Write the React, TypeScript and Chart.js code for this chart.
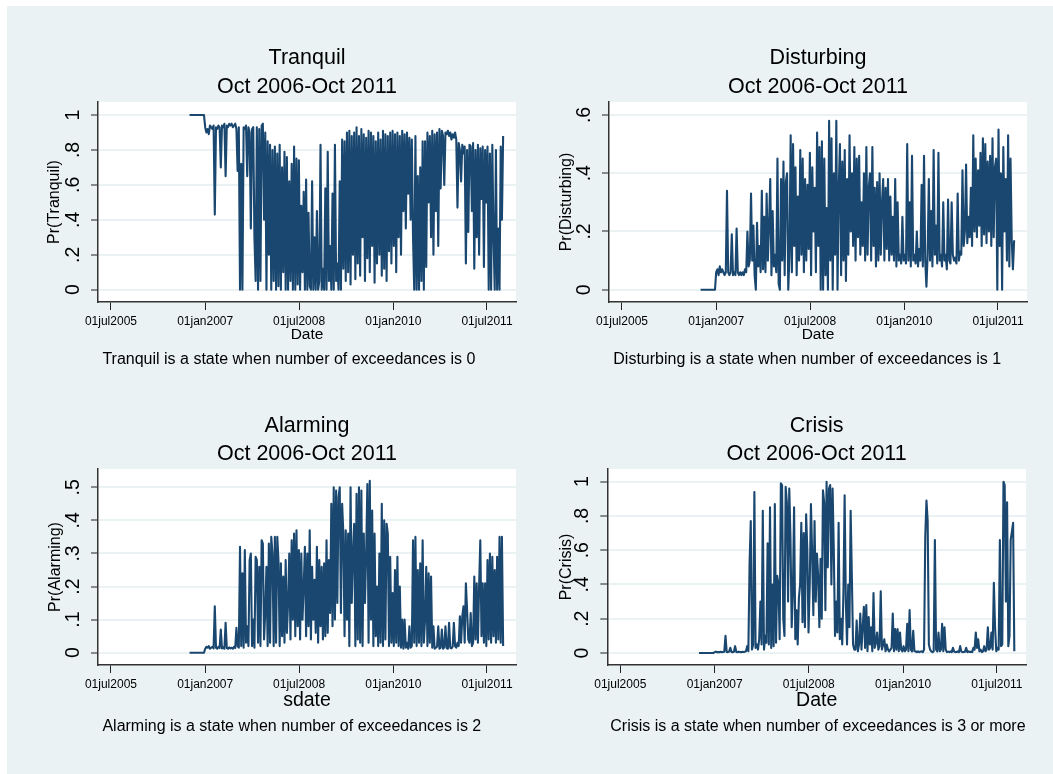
import { useEffect, useRef } from 'react';
import { Chart, registerables } from 'chart.js';

Chart.register(...registerables);

const FONT = '"Liberation Sans", Arial, Helvetica, sans-serif';
Chart.defaults.font.family = FONT;
const NAVY = '#1A476F';
const BG = '#EAF2F3';

// weekly observations starting at this date
const firstWeek = '2006-10-02';
const stepDays = 7;

const dateTicks = ['2005-07-01', '2007-01-01', '2008-07-01', '2010-01-01', '2011-07-01'];
const dateTickLabels = ['01jul2005', '01jan2007', '01jul2008', '01jan2010', '01jul2011'];
const period = 'Oct 2006-Oct 2011';

const tranquil = [
  1, 1, 1, 1, 1, 1, 1, 1, 1, 1, 1, 1, 1,
  .93, .90, .92, .89, .94, .93, .92, .94,
  .43,
  .93, .92, .94, .93,
  .70,
  .94, .93, .95,
  .65,
  .94, .93, .95, .94, .95, .93, .94, .95,
  .92, .68, .93, 0, .72, 0, .93, .92, .94, .65, .93,
  .90, .35, .92, .93, .30, .05, .93, 0, .92, .05,
  .94, .95, .40, .90, 0, .85, .20, .83, 0, .80,
  .05, .82, 0, .78, .02, .83, 0, .70, .10, .79,
  0, .76, 0, .62, .05, .72, 0, .82, 0, .75,
  .03, .74, 0, .48, .10, .56, 0, .63, 0, .44,
  .02, 0, .62, 0, .30, 0, .45, 0, .05, .83,
  0, .12, 0, .58, 0, .79, .05, .25, 0, .55,
  0, .83, .05, .15, 0, .62, 0,
  .86, .12, .85, .05, .90, .10, .91, .03, .88, .20,
  .90, .06, .93, .15, .88, .08, .92, .30, .89, .05,
  .87, .18, .91, .10, .90, .25, .88, .04, .85, .15,
  .90, .20, .86, .08, .91, .12, .89, .05, .88, .22,
  .90, .15, .91, .25, .89, .10, .90, .30, .88, .20,
  .91, .45, .89, .35, .90, .55, .87, .40, .86, .30,
  0, .88, 0, .65, 0, .70, .05, .85, 0,
  .85, .13, .90, .50, .88, .30, .91, .20, .89, .45,
  .90, .25, .92, .58, .91, .88, .60, .90, .89, .91,
  .88, .90, .86, .89, .87, .90,
  .86, .47, .84, .80, .62, .83, .78, .82, .15, .80, .33, .83,
  .82, .45, .84, .12, .80, .30, .83, .20, .81, .52, .82, .13, .80, .50,
  .82, 0, .78, 0, .83, .30, 0, .80, 0, .35, 0, .82, .40, .88,
];

const disturbing = [
  0, 0, 0, 0, 0, 0, 0, 0, 0, 0, 0, 0, 0,
  .06, .07, .05, .08, .06, .07, .06, .05, .06,
  .34,
  .06, .05, .06, .19, .05, .06, .05, .21, .06, .05, .06, .05, .06, .05, .07,
  .06, .20, .08, .10, .33, .10, .22, .05, 0, .23,
  .08, .15, .06, .34, .07, .25, .06, .33, .10, .22,
  .38, .05, .27, .08, .12, .06, .45, .02, 0, .38,
  .10, .44, .05, .37, .40, 0, .12, .53, .06, .50,
  .15, .42, .05, .32, .10, .48, .12, .45, .06, .38,
  .10, .36, .14, .47, .05, .42, .20, .35, .06, .54,
  .15, .49, 0, .51, 0, .45, .05, .28, 0, .58,
  .10, .52, 0, .40, .12, .58, 0, .35, .50, .05,
  .44, .10, .48, .03, .38, .12, .53, .20, .40, .15,
  .49, .10, .45, .18, .46, .12, .30, .15, .40, .10,
  .49, .12, .35, .40, .10, .49, .15, .35, .08, .37,
  .10, .40, .12, .30, .38, .10, .35, .14, .38, .10,
  .32, .12, .25, .10, .38, .08, .30, .10, .12, .09,
  .25, .10, .12, .09, .50, .10, .30, .08, .46, .10,
  .12, .09, .20, .08, .14, .10, .36, .08, .46, .10,
  .01, .12, .38, .10, .27, .08, .48, .12, .22, .09,
  .47, .10, .12, .08, .30, .10, .12, .07, .31, .10,
  .09, .30, .12, .10, .11, .09, .33, .10, .13, .12,
  .41, .15, .20, .43, .16, .25, .18, .35, .15, .53,
  .20, .45, .18, .41, .22, .47, .15, .52, .19, .50,
  .16, .44, .20, .46, .15, .52, .18, .42, .45, 0,
  .55, .15, .40, 0, .49, .20, .38, .10, .53, .08,
  .45, .17, .07, .17,
];

const alarming = [
  0, 0, 0, 0, 0, 0, 0, 0, 0, 0, 0, 0, 0,
  .012, .018, .015, .02, .012, .015, .018, .013,
  .14,
  .015, .012, .018, .014,
  .07,
  .013, .016, .012,
  .09,
  .014, .012, .016, .013, .015, .012, .018, .014,
  .075, .02, .015, .32, .02, .24, .015, .31, .03, .08,
  .02, .28, .30, .02, .10, .015, .29, .28, .03, .26,
  .02, .34, .33, .04, .12, .26, .02, .33, .03, .35,
  .30, .02, .35, .03, .35, .28, .02, .27, .05, .23,
  .03, .28, .06, .15, .30, .04, .34, .10, .36, .05,
  .37, .08, .31, .04, .30, .10, .20, .32, .05, .30,
  .08, .37, .04, .26, .10, .22, .06, .32, .03, .28,
  .08, .26, .04, .27, .05, .34, .06, .28, .12, .45,
  .08, .50, .10, .49, .15, .47, .50, .12, .45, .36,
  .05, .37, .10, .36, .02, .50, .15, .30, .39, .02,
  .48, .04, .50, .03, .49, .02, .36, .15, .30, .51,
  .03, .52, .10, .43, .02, .36, .05, .20, .02, .30,
  .03, .45, .02, .40, .04, .39, .36, .02, .29, .03,
  .18, .02, .25, .03, .29, .02, .20, .015, .10, .012,
  .10, .015, .03, .012, .08, .015, .02, .34, .03, .35,
  .02, .25, .03, .27, .02, .34, .03, .10, .26, .02,
  .24, .03, .23, .015, .08, .012, .015, .018, .08, .012,
  .015, .07, .012, .016, .08, .014, .012, .09, .015, .013,
  .018, .09, .02, .015, .03, .02, .11, .03, .11, .14,
  .03, .21, .13, .04, .03, .12, .02, .03, .23, .04,
  .21, .03, .20, .34, .05, .21, .03, .21, .02, .28,
  .04, .30, .03, .29, .05, .25, .03, .29, .04, .35,
  .03, .35, .02,
];

const crisis = [
  0, 0, 0, 0, 0, 0, 0, 0, 0, 0, 0, 0, 0,
  .005, .008, .004, .006, .005, .007, .005, .006, .008,
  .10,
  .006, .005, .008,
  .03,
  .006, .005, .007,
  .04,
  .006, .005, .008, .006, .005, .007, .006, .008, .01,
  .04, .01, .52, .77, .02, .05, .94, .03, .05, .02,
  .08, .30, .05, .83, .02, .10, .06, .64, .05, .85,
  .03, .40, .04, .87, .06, .45, .40, .08, .99, .98,
  .20, .10, .97, .88, .30, .96, .67, .15, .35, .85,
  .08, .25, .05, .32, .40, .76, .18, .70, .15, .81,
  .60, .12, .40, .87, .58, .22, .77, .30, .58, .45,
  .15, .55, .20, .95, .88, .25, 1.0, .50, .96, .98,
  .40, .96, .60, .10, .30, .12, .76, .08, .20, .05,
  .35, .92, .30, .05, .40, .15, .83, .45, .05, .02,
  .02, .19, .01, .05, .23, .02, .15, .27, .03, .28,
  .01, .21, .05, .15, .01, .35, .03, .06, .12, .02,
  .04, .36, .02, .05, .08, .01, .05, .02, .01, .02,
  .03, .23, .01, .14, .02, .14, .01, .12, .02, .01,
  .04, .01, .02, .17, .01, .25, .02, .01, .13, .01,
  .01, .005, .01, .005, .008, .01, .005, .02, .68, .89,
  .77, .05, .02, .01, .005, .01, .66, .02, .01, .12,
  .01, .02, .17, .01, .15, .02, .005, .008, .005, .01,
  .005, .03, .008, .005, .006, .01, .005, .04, .008, .005,
  .006, .008, .03, .005, .01, .006, .008, .005, .03, .02,
  .12, .03, .08, .01, .02, .005, .01, .04, .01, .02,
  .15, .02, .03, .12, .02, .41, .15, .01, .03, .02,
  .66, .04, .05, 1.0, .98, .30, .88, .04, .10, .66,
  .71, .76, .01,
];

const ticks10 = [0, .2, .4, .6, .8, 1];
const labels10 = ['0', '.2', '.4', '.6', '.8', '1'];
const ticks06 = [0, .2, .4, .6];
const labels06 = ['0', '.2', '.4', '.6'];
const ticks05 = [0, .1, .2, .3, .4, .5];
const labels05 = ['0', '.1', '.2', '.3', '.4', '.5'];

const dayNum = (s: string) => {
  const [y, m, d] = s.split('-').map(Number);
  return Date.UTC(y, m - 1, d) / 86400000;
};

const X_MIN = dayNum('2005-07-01') - 75.5;
const X_MAX = dayNum('2011-07-01') + 169;

type PanelSpec = {
  id: string; left: number; top: number; title: string; yTitle: string; xTitle: string;
  xTitleSize: number; note: string; values: number[]; yTicks: number[]; yLabels: string[];
  yMin: number; yMax: number; yWidth: number; yTitlePad: number; padRight: number;
  titlePadTop: number; titlePadBottom: number; titleLH: number; xHeight: number;
  padBottom: number; noteY: number; noteDx: number; xTickPad: number;
};

const panels: PanelSpec[] = [
  {
    id: 'p1', left: 7, top: 6, title: 'Tranquil', yTitle: 'Pr(Tranquil)', xTitle: 'Date', xTitleSize: 15.5,
    note: 'Tranquil is a state when number of exceedances is 0', values: tranquil,
    yTicks: ticks10, yLabels: labels10, yMin: -0.0704, yMax: 1.0744, yWidth: 91, yTitlePad: 38.2,
    padRight: 14, titlePadTop: 37.8, titlePadBottom: 0.2, titleLH: 1.3488, xHeight: 42.3,
    padBottom: 45.7, noteY: 354, noteDx: 4.4, xTickPad: 4.5,
  },
  {
    id: 'p2', left: 530, top: 6, title: 'Disturbing', yTitle: 'Pr(Disturbing)', xTitle: 'Date', xTitleSize: 15.5,
    note: 'Disturbing is a state when number of exceedances is 1', values: disturbing,
    yTicks: ticks06, yLabels: labels06, yMin: -0.0422, yMax: 0.6446, yWidth: 79, yTitlePad: 27.1,
    padRight: 26, titlePadTop: 37.8, titlePadBottom: 0.2, titleLH: 1.3488, xHeight: 42.3,
    padBottom: 45.7, noteY: 354, noteDx: 4.3, xTickPad: 4.5,
  },
  {
    id: 'p3', left: 7, top: 390, title: 'Alarming', yTitle: 'Pr(Alarming)', xTitle: 'sdate', xTitleSize: 19.5,
    note: 'Alarming is a state when number of exceedances is 2', values: alarming,
    yTicks: ticks05, yLabels: labels05, yMin: -0.0372, yMax: 0.5553, yWidth: 91, yTitlePad: 39.2,
    padRight: 14, titlePadTop: 21.3, titlePadBottom: 0.1, titleLH: 1.3395, xHeight: 47.4,
    padBottom: 61.6, noteY: 336.7, noteDx: 4.4, xTickPad: 4.8,
  },
  {
    id: 'p4', left: 530, top: 390, title: 'Crisis', yTitle: 'Pr(Crisis)', xTitle: 'Date', xTitleSize: 19.5,
    note: 'Crisis is a state when number of exceedances is 3 or more', values: crisis,
    yTicks: ticks10, yLabels: labels10, yMin: -0.070, yMax: 1.074, yWidth: 77.3, yTitlePad: 27.1,
    padRight: 27, titlePadTop: 21.3, titlePadBottom: 0.1, titleLH: 1.3395, xHeight: 47.4,
    padBottom: 61.6, noteY: 336.7, noteDx: 3, xTickPad: 4.8,
  },
];

const plotBgPlugin = {
  id: 'plotBg',
  beforeDraw(chart: any) {
    const { ctx, chartArea: a } = chart;
    ctx.save();
    ctx.fillStyle = '#ffffff';
    ctx.fillRect(a.left, a.top, a.right - a.left, a.bottom - a.top);
    ctx.restore();
  },
};

const notePlugin = {
  id: 'note',
  afterDraw(chart: any, _args: any, opts: any) {
    const { ctx, chartArea: a } = chart;
    ctx.save();
    ctx.font = `16px ${FONT}`;
    ctx.fillStyle = '#000';
    ctx.textAlign = 'left';
    ctx.textBaseline = 'middle';
    ctx.fillText(opts.text, a.left + opts.dx, opts.y);
    ctx.restore();
  },
};

function Panel({ p }: { p: PanelSpec }) {
  const ref = useRef<HTMLCanvasElement>(null);
  useEffect(() => {
    const start = dayNum(firstWeek);
    const pts = p.values.map((v, i) => ({ x: start + i * stepDays, y: v }));
    const tickVals = dateTicks.map(dayNum);
    const chart = new Chart(ref.current as HTMLCanvasElement, {
      type: 'line',
      data: {
        datasets: [{
          data: pts, borderColor: NAVY, borderWidth: 2.1, pointRadius: 0,
          borderJoinStyle: 'round', tension: 0, fill: false,
        }],
      },
      options: {
        responsive: false, animation: false, parsing: false, normalized: true, events: [],
        layout: { padding: { left: 0, top: 0, right: p.padRight, bottom: p.padBottom } },
        plugins: {
          legend: { display: false },
          tooltip: { enabled: false },
          title: {
            display: true, text: [p.title, period], fullSize: false, color: '#000',
            font: { family: FONT, size: 21.5, weight: 'normal', lineHeight: p.titleLH },
            padding: { top: p.titlePadTop, bottom: p.titlePadBottom },
          },
          note: { text: p.note, y: p.noteY, dx: p.noteDx },
        } as any,
        scales: {
          x: {
            type: 'linear', min: X_MIN, max: X_MAX,
            afterBuildTicks: (s: any) => { s.ticks = tickVals.map((v) => ({ value: v })); },
            afterFit: (s: any) => { s.height = p.xHeight; },
            ticks: {
              autoSkip: false, maxRotation: 0, minRotation: 0, padding: p.xTickPad, color: '#000',
              font: { family: FONT, size: 12 },
              callback: (_v: any, i: number) => dateTickLabels[i],
            },
            grid: { drawOnChartArea: false, drawTicks: true, tickLength: 8, color: '#222', lineWidth: 1 },
            border: { display: true, color: '#333', width: 1.5 },
            title: {
              display: true, text: p.xTitle, color: '#000',
              font: { family: FONT, size: p.xTitleSize }, padding: { top: 0, bottom: 0 },
            },
          },
          y: {
            type: 'linear', min: p.yMin, max: p.yMax,
            afterBuildTicks: (s: any) => { s.ticks = p.yTicks.map((v) => ({ value: v })); },
            afterFit: (s: any) => { s.width = p.yWidth; },
            ticks: {
              minRotation: 90, maxRotation: 90, crossAlign: 'center', padding: 9.2, color: '#000',
              font: { family: FONT, size: 19.5 },
              callback: (_v: any, i: number) => p.yLabels[i],
            },
            grid: { color: BG, lineWidth: 2, tickColor: '#222', tickWidth: 1, tickLength: 7, drawTicks: true },
            border: { display: true, color: '#333', width: 1.5 },
            title: {
              display: true, text: p.yTitle, color: '#000',
              font: { family: FONT, size: 16 }, padding: { top: p.yTitlePad, bottom: 0 },
            },
          },
        },
      } as any,
      plugins: [plotBgPlugin, notePlugin],
    });
    return () => chart.destroy();
  }, [p]);
  return (
    <canvas
      ref={ref}
      width={523}
      height={384}
      style={{ position: 'absolute', left: p.left, top: p.top, width: 523, height: 384, display: 'block' }}
    />
  );
}

export default function App() {
  return (
    <div style={{ position: 'absolute', left: 0, top: 0, width: 1053, height: 774, background: '#ffffff', overflow: 'hidden' }}>
      <div style={{ position: 'absolute', left: 7, top: 6, width: 1046, height: 768, background: BG }} />
      {panels.map((p) => <Panel key={p.id} p={p} />)}
    </div>
  );
}
